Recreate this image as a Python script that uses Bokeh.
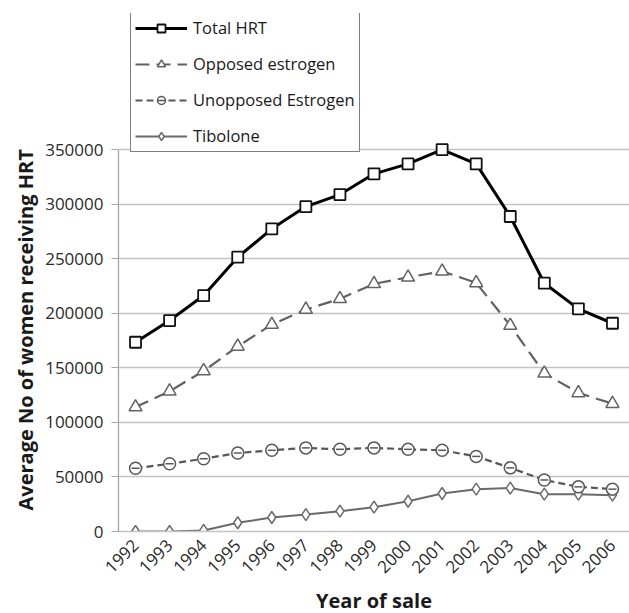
import math
from bokeh.plotting import figure
from bokeh.models import (Legend, LegendItem, FixedTicker, Range1d, NumeralTickFormatter,
                          ColumnDataSource, Title)
from bokeh.embed import file_html
from bokeh.resources import INLINE

years = list(range(1992, 2007))
total_hrt = [173400, 193300, 216200, 251300, 277300, 297700, 308700, 327700,
             336800, 349900, 336800, 288600, 227500, 204000, 190800]
opposed = [114000, 128500, 147100, 169600, 189600, 203400, 213200, 226900,
           232900, 238400, 227800, 188700, 144900, 127000, 117100]
unopposed = [58000, 62000, 66700, 71900, 74400, 76600, 75300, 76600,
             75300, 74400, 68800, 58300, 47200, 40900, 38800]
tibolone = [0, 0, 1000, 8000, 12800, 15500, 18600, 22300,
            27700, 34800, 38800, 39800, 34200, 34200, 33300]
y_ticks = [0, 50000, 100000, 150000, 200000, 250000, 300000, 350000]

FONT = "Open Sans"
Y_MAX = 350000
# frame spans 518 px; the 0..350000 axis occupies the lower 382 px of it
Y_END = Y_MAX * 518 / 382

src = ColumnDataSource(dict(year=years, total=total_hrt, opp=opposed, unopp=unopposed, tib=tibolone))

p = figure(frame_width=511, frame_height=518, output_backend="svg", toolbar_location=None,
           x_range=Range1d(1991.5, 2006.5), y_range=Range1d(0, Y_END),
           min_border_left=118, min_border_right=0, min_border_top=13, min_border_bottom=82)
p.outline_line_color = None
p.background_fill_color = "white"

# grid
p.xgrid.grid_line_color = None
p.ygrid.ticker = FixedTicker(ticks=y_ticks)
p.ygrid.grid_line_color = "#c4c4c4"
p.ygrid.grid_line_width = 1.3

# x axis
p.xaxis.ticker = FixedTicker(ticks=years)
p.xaxis.major_label_orientation = math.pi / 4
p.xaxis.major_tick_line_color = None
p.xaxis.major_tick_out = 0
p.xaxis.major_tick_in = 0
p.xaxis.minor_tick_line_color = None
p.xaxis.axis_line_color = "#c4c4c4"
p.xaxis.axis_line_width = 1.3
p.xaxis.major_label_text_font = FONT
p.xaxis.major_label_text_font_size = "17px"
p.xaxis.major_label_text_color = "#2a2a2a"
p.xaxis.major_label_standoff = 11
p.xaxis.axis_label = "Year of sale"
p.xaxis.axis_label_text_font = FONT
p.xaxis.axis_label_text_font_style = "bold"
p.xaxis.axis_label_text_font_size = "20px"
p.xaxis.axis_label_text_color = "#1a1a1a"
p.xaxis.axis_label_standoff = 6

# y axis
p.yaxis.ticker = FixedTicker(ticks=y_ticks)
p.yaxis.bounds = (0, Y_MAX)
p.yaxis.formatter = NumeralTickFormatter(format="0")
p.yaxis.major_tick_out = 7
p.yaxis.major_tick_in = 0
p.yaxis.major_tick_line_color = "#a6a6a6"
p.yaxis.minor_tick_line_color = None
p.yaxis.axis_line_color = "#a6a6a6"
p.yaxis.axis_line_width = 1.3
p.yaxis.major_label_text_font = FONT
p.yaxis.major_label_text_font_size = "17px"
p.yaxis.major_label_text_color = "#2a2a2a"
p.yaxis.major_label_standoff = 8

# y-axis title, centred on the 0..350000 part of the frame
ytitle = Title(text="Average No of women receiving HRT", align="left", offset=21,
               text_font=FONT, text_font_style="bold", text_font_size="20px",
               text_color="#1a1a1a", standoff=8)
p.add_layout(ytitle, "left")

# series
tib_l = p.line("year", "tib", source=src, line_color="#6a6a6a", line_width=2)
tib_m = p.scatter("year", "tib", source=src, marker="diamond", size=12,
                  fill_color="white", line_color="#6a6a6a", line_width=1.5)

un_l = p.line("year", "unopp", source=src, line_color="#585858", line_width=2.2, line_dash="7 4")
un_m = p.scatter("year", "unopp", source=src, marker="circle", size=12,
                 fill_color="white", line_color="#585858", line_width=1.5)
un_d = p.scatter("year", "unopp", source=src, marker="dash", size=8,
                 line_color="#585858", line_width=1.5)

op_l = p.line("year", "opp", source=src, line_color="#626262", line_width=2.2, line_dash="14 7")
op_m = p.scatter("year", "opp", source=src, marker="triangle", size=13,
                 fill_color="white", line_color="#626262", line_width=1.5)

tot_l = p.line("year", "total", source=src, line_color="black", line_width=3)
tot_m = p.scatter("year", "total", source=src, marker="square", size=11,
                  fill_color="white", line_color="#111111", line_width=1.8)

legend = Legend(items=[
    LegendItem(label="Total HRT", renderers=[tot_l, tot_m]),
    LegendItem(label="Opposed estrogen", renderers=[op_l, op_m]),
    LegendItem(label="Unopposed Estrogen", renderers=[un_l, un_m, un_d]),
    LegendItem(label="Tibolone", renderers=[tib_l, tib_m]),
], location=(12, 379))
legend.border_line_color = "black"
legend.border_line_width = 1.5
legend.background_fill_color = "white"
legend.background_fill_alpha = 1
legend.label_text_font = FONT
legend.label_text_font_size = "16.5px"
legend.label_text_color = "#1a1a1a"
legend.glyph_width = 52
legend.glyph_height = 20
legend.label_height = 20
legend.label_standoff = 6
legend.spacing = 13
legend.padding = 4
legend.margin = 0
p.add_layout(legend, "center")

open("out.html", "w").write(file_html(p, INLINE))
